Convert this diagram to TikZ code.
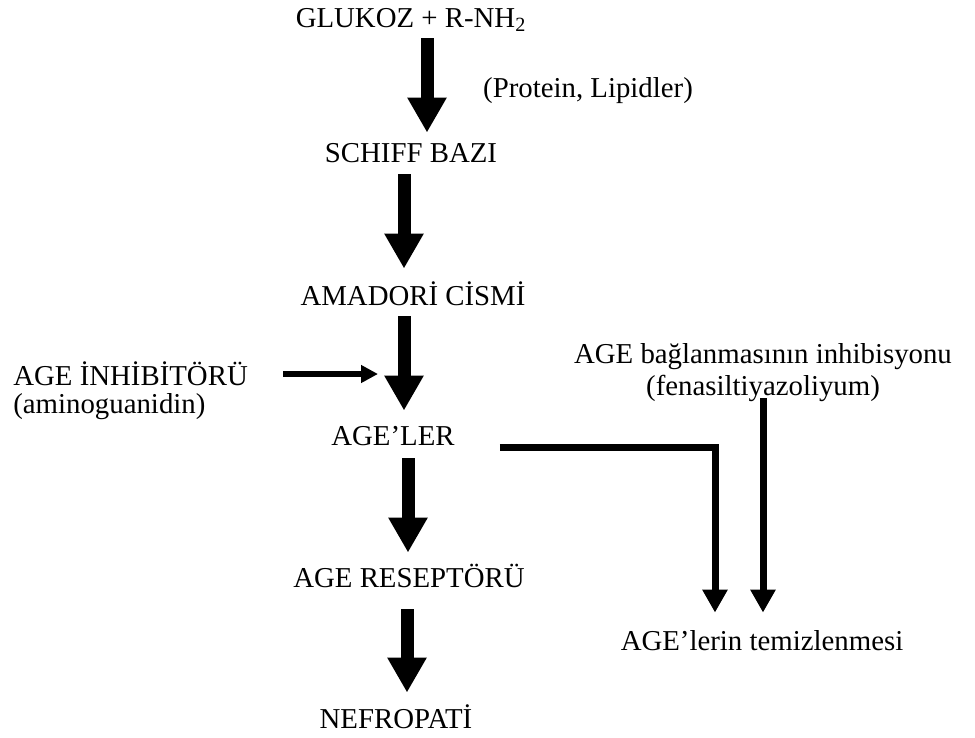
\documentclass[tikz,border=0pt]{standalone}
\usepackage{fontspec}
\setmainfont{Liberation Serif}
\usetikzlibrary{arrows.meta}

\begin{document}
\begin{tikzpicture}[
  x=0.02cm, y=-0.02cm,
  txt/.style={inner sep=0pt, anchor=base, text height=12pt, text depth=4pt,
              font=\fontsize{16.4}{19}\selectfont},
  bigarrow/.style={line width=0.26cm, -{Triangle[width=0.74cm, length=0.7cm]}},
  sidearrow/.style={line width=0.12cm, -{Triangle[width=0.34cm, length=0.34cm]}},
  clearance/.style={line width=0.14cm, -{Triangle[width=0.48cm, length=0.46cm]}},
]

% page (pixel grid of the original)
\fill[white] (0,0) rectangle (975,738);

% ---------- main chain ----------
\node[txt] (glukoz)   at (411,27)  {GLUKOZ + R-NH\textsubscript{2}};
\node[txt] (protein)  at (588,97)  {(Protein, Lipidler)};
\node[txt] (schiff)   at (411,162) {SCHIFF BAZI};
\node[txt] (amadori)  at (413,305) {AMADORİ CİSMİ};
\node[txt] (ageler)   at (393,445) {AGE’LER};
\node[txt] (reseptor) at (409,587) {AGE RESEPTÖRÜ};
\node[txt] (nefro)    at (396,728) {NEFROPATİ};

% ---------- inhibitors ----------
\node[txt, anchor=base west] (inhib) at (13,385) {AGE İNHİBİTÖRÜ};
\node[txt, anchor=base west] (amino) at (13,413) {(aminoguanidin)};
\node[txt] (bag)   at (763,363) {AGE bağlanmasının inhibisyonu};
\node[txt] (fenas) at (763,395) {(fenasiltiyazoliyum)};
\node[txt] (temiz) at (762,650) {AGE’lerin temizlenmesi};

% block arrows down the chain
\draw[bigarrow, shorten <=0.08cm, shorten >=0.16cm] (glukoz.south -| 427,0) -- (schiff.north -| 427,0);
\draw[bigarrow, shorten <=0.10cm, shorten >=0.30cm] (schiff.south -| 404,0) -- (amadori.north -| 404,0);
\draw[bigarrow, shorten <=0.08cm, shorten >=0.26cm] (amadori.south -| 404,0) -- (ageler.north -| 404,0);
\draw[bigarrow, shorten <=0.12cm, shorten >=0.26cm] (ageler.south -| 408,0) -- (reseptor.north -| 408,0);
\draw[bigarrow, shorten <=0.30cm, shorten >=0.28cm] (reseptor.south -| 407,0) -- (nefro.north -| 407,0);

% inhibitor pointing at the chain
\coordinate (hit) at (378,374);
\draw[sidearrow, shorten <=0.7cm] (inhib.east |- hit) -- (hit);

% clearance branch
\draw[clearance, shorten <=0.9cm, shorten >=0.32cm] ([yshift=-0.04cm]ageler.base east) -| (temiz.north -| 715,0);
\draw[clearance, shorten <=-0.08cm, shorten >=0.32cm] (fenas.south) -- (fenas.south |- temiz.north);

\end{tikzpicture}
\end{document}
